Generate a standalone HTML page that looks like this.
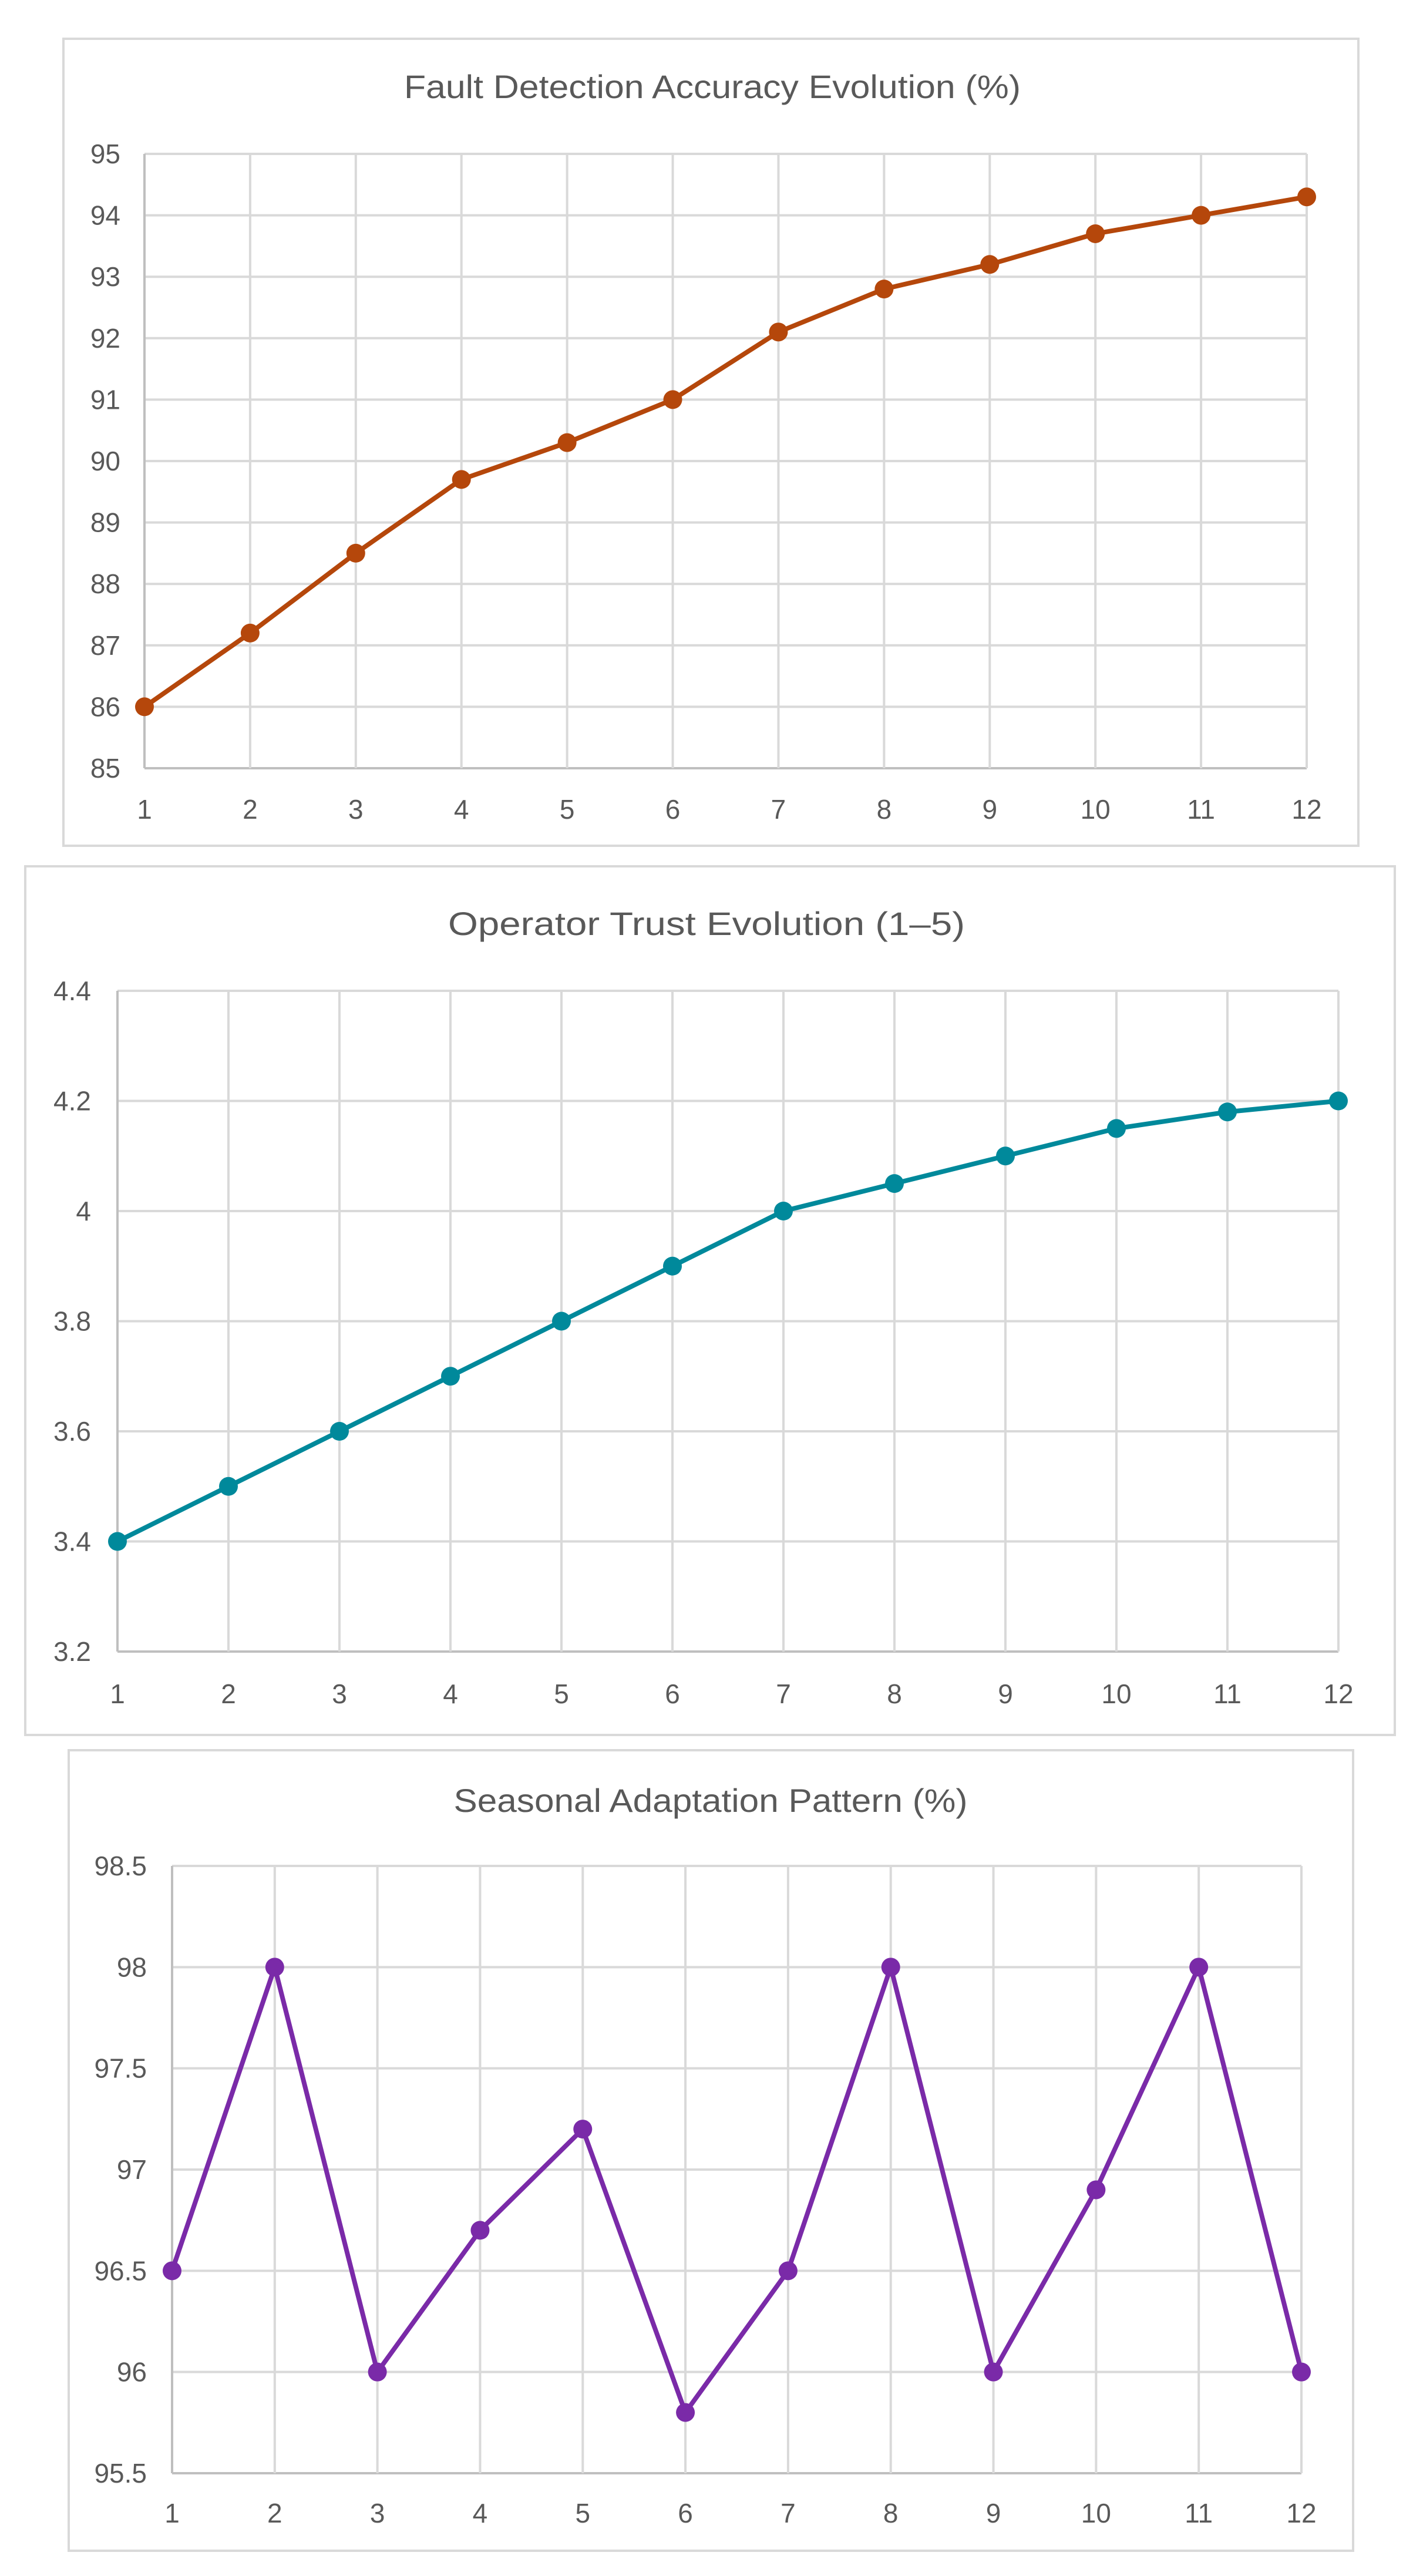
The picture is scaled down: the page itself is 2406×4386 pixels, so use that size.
<!DOCTYPE html>
<html><head><meta charset="utf-8">
<style>
html,body{margin:0;padding:0;background:#fff;}
svg{display:block;}
text{font-family:"Liberation Sans",sans-serif;fill:#595959;}
</style></head>
<body>
<svg id="s" width="2406" height="4386" xmlns="http://www.w3.org/2000/svg"></svg>
<script>
const charts=[
 {box:[108,66,2313,1440],plot:[246,262,2225,1308],title:"Fault Detection Accuracy Evolution (%)",ty:167,tx:1213,tw:1050,
  ymin:85,ymax:95,step:1,labs:["85","86","87","88","89","90","91","92","93","94","95"],
  data:[86,87.2,88.5,89.7,90.3,91,92.1,92.8,93.2,93.7,94,94.3],col:"#B5470B",ylx:205,xly:1394},
 {box:[43,1475,2375,2954],plot:[200,1687,2279,2812],title:"Operator Trust Evolution (1\u20135)",ty:1592,tx:1203,tw:880,
  ymin:3.2,ymax:4.4,step:0.2,labs:["3.2","3.4","3.6","3.8","4","4.2","4.4"],
  data:[3.4,3.5,3.6,3.7,3.8,3.9,4.0,4.05,4.1,4.15,4.18,4.2],col:"#00899B",ylx:155,xly:2900},
 {box:[117,2980,2304,4343],plot:[293,3177,2216,4211],title:"Seasonal Adaptation Pattern (%)",ty:3085,tx:1210,tw:875,
  ymin:95.5,ymax:98.5,step:0.5,labs:["95.5","96","96.5","97","97.5","98","98.5"],
  data:[96.5,98,96,96.7,97.2,95.8,96.5,98,96,96.9,98,96],col:"#7A2AA8",ylx:250,xly:4295}
];
let h="";
for(const c of charts){
 const [bx0,by0,bx1,by1]=c.box,[px0,py0,px1,py1]=c.plot;
 h+=`<rect x="${bx0}" y="${by0}" width="${bx1-bx0}" height="${by1-by0}" fill="#fff" stroke="#D9D9D9" stroke-width="4"/>`;
 h+=`<text x="${c.tx}" y="${c.ty}" text-anchor="middle" font-size="56" textLength="${c.tw}" lengthAdjust="spacingAndGlyphs">${c.title}</text>`;
 const n=c.labs.length;
 for(let i=0;i<n;i++){
  const y=py1-(py1-py0)*i/(n-1);
  h+=`<line x1="${px0}" x2="${px1}" y1="${y}" y2="${y}" stroke="${i==0?'#BFBFBF':'#D9D9D9'}" stroke-width="4"/>`;
  h+=`<text x="${c.ylx}" y="${y+16}" text-anchor="end" font-size="46">${c.labs[i]}</text>`;
 }
 const X=i=>px0+(px1-px0)*i/11;
 for(let i=0;i<12;i++){
  h+=`<line x1="${X(i)}" x2="${X(i)}" y1="${py0}" y2="${py1}" stroke="${i==0?'#BFBFBF':'#D9D9D9'}" stroke-width="4"/>`;
  h+=`<text x="${X(i)}" y="${c.xly}" text-anchor="middle" font-size="46">${i+1}</text>`;
 }
 const Y=v=>py1-(v-c.ymin)/(c.ymax-c.ymin)*(py1-py0);
 h+=`<polyline fill="none" stroke="${c.col}" stroke-width="8" stroke-linejoin="round" points="${c.data.map((v,i)=>X(i)+','+Y(v)).join(' ')}"/>`;
 c.data.forEach((v,i)=>{h+=`<circle cx="${X(i)}" cy="${Y(v)}" r="16" fill="${c.col}"/>`;});
}
document.getElementById("s").innerHTML=h;
</script>
</body></html>
